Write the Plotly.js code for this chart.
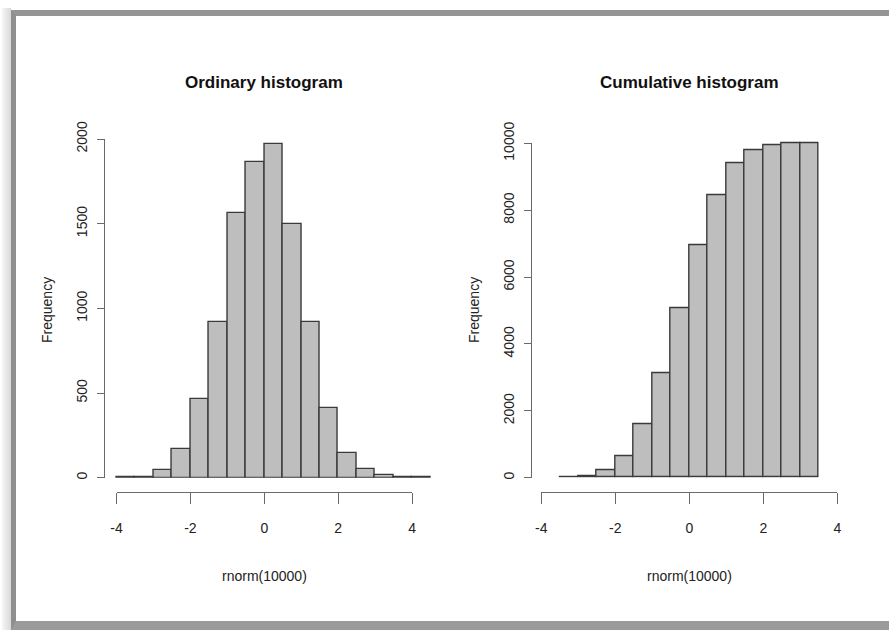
<!DOCTYPE html>
<html>
<head>
<meta charset="utf-8">
<script src="https://cdn.plot.ly/plotly-3.0.1.min.js"></script>
<style>
  html, body { margin: 0; padding: 0; background: #ffffff; }
  #wrap { position: relative; width: 889px; height: 630px; overflow: hidden; }
  #shadow { position: absolute; left: 2px; top: 8px; width: 9px; height: 622px;
            background: linear-gradient(to right, #f6f6f6, #d9d9d9); }
  #frame { position: absolute; left: 11px; top: 10px; width: 900px;
           border-top: 6px solid #959595; border-left: 5px solid #8f8f8f;
           border-bottom: 9px solid #9b9b9b; box-sizing: border-box; height: 620px; }
  #chart { position: absolute; left: 0; top: 0; width: 889px; height: 630px; }
</style>
</head>
<body>
<div id="wrap">
  <div id="shadow"></div>
  <div id="frame"></div>
  <div id="chart"></div>
</div>
<script>
// ---------------- data ----------------
const leftTitle = "Ordinary histogram";
const rightTitle = "Cumulative histogram";
const xLabel = "rnorm(10000)";
const yLabel = "Frequency";

const leftBreaks = [-4, -3.5, -3, -2.5, -2, -1.5, -1, -0.5, 0, 0.5, 1, 1.5, 2, 2.5, 3, 3.5, 4, 4.5];
const leftCounts = [3, 4, 45, 167, 463, 921, 1562, 1862, 1972, 1497, 917, 409, 148, 49, 14, 3, 1];

const rightBreaks = [-3.5, -3, -2.5, -2, -1.5, -1, -0.5, 0, 0.5, 1, 1.5, 2, 2.5, 3, 3.5];
const rightCounts = [5, 45, 230, 655, 1605, 3120, 5065, 6940, 8455, 9390, 9780, 9945, 9990, 10000];

const xTicks = [-4, -2, 0, 2, 4];
const leftYTicks = [0, 500, 1000, 1500, 2000];
const rightYTicks = [0, 2000, 4000, 6000, 8000, 10000];

// ---------------- layout helpers (pixel geometry) ----------------
const W = 889, H = 630;
const px2x = p => p / W;
const px2y = p => (H - p) / H;

function mids(b) { const m = []; for (let i = 0; i < b.length - 1; i++) m.push((b[i] + b[i + 1]) / 2); return m; }
function widths(b) { const w = []; for (let i = 0; i < b.length - 1; i++) w.push(b[i + 1] - b[i]); return w; }

// panel geometry
const panels = [
  { zeroX: 264.3, sx: 36.95, base: 477.7, topVal: leftYTicks[leftYTicks.length - 1], topPx: 139, axisX: 104 },
  { zeroX: 689.3, sx: 37.0,  base: 477.7, topVal: rightYTicks[rightYTicks.length - 1], topPx: 143.3, axisX: 531 }
];
const dataXRange = [-4.4, 4.8];
const xAxisPx = 491.7;

const tickFont = { family: "Liberation Sans, Arial, sans-serif", size: 14, color: "#222" };
const axisColor = "#6a6a6a";

const layout = {
  width: W, height: H,
  margin: { l: 0, r: 0, t: 0, b: 0, pad: 0 },
  paper_bgcolor: "rgba(0,0,0,0)",
  plot_bgcolor: "rgba(0,0,0,0)",
  showlegend: false,
  bargap: 0,
  annotations: [],
  font: { family: "Liberation Sans, Arial, sans-serif" }
};

const traces = [];
const sets = [
  { breaks: leftBreaks, counts: leftCounts, yTicks: leftYTicks, yExtra: 2100, title: leftTitle },
  { breaks: rightBreaks, counts: rightCounts, yTicks: rightYTicks, yExtra: 10300, title: rightTitle }
];

sets.forEach((s, i) => {
  const p = panels[i];
  const sy = (p.base - p.topPx) / p.topVal;
  const dx = "x" + (2 * i + 1), dy = "y" + (2 * i + 1);   // data axes
  const vx = "x" + (2 * i + 2), vy = "y" + (2 * i + 2);   // visible R-style axes
  const kdx = "xaxis" + (2 * i + 1), kdy = "yaxis" + (2 * i + 1);
  const kvx = "xaxis" + (2 * i + 2), kvy = "yaxis" + (2 * i + 2);

  // data axes (hidden)
  layout[kdx] = {
    domain: [px2x(p.zeroX + p.sx * dataXRange[0]), px2x(p.zeroX + p.sx * dataXRange[1])],
    range: dataXRange, visible: false, anchor: dy, fixedrange: true
  };
  layout[kdy] = {
    domain: [px2y(p.base), px2y(p.base - sy * s.yExtra)],
    range: [0, s.yExtra], visible: false, anchor: dx, fixedrange: true
  };

  // visible axes spanning first..last tick
  const x0 = xTicks[0], x1 = xTicks[xTicks.length - 1];
  const y0 = s.yTicks[0], y1 = s.yTicks[s.yTicks.length - 1];
  layout[kvx] = {
    domain: [px2x(p.zeroX + p.sx * x0), px2x(p.zeroX + p.sx * x1)],
    range: [x0, x1], anchor: "free", position: px2y(xAxisPx),
    showline: true, linecolor: axisColor, linewidth: 1.3,
    ticks: "outside", ticklen: 11, tickwidth: 1.3, tickcolor: axisColor,
    tickvals: xTicks, ticktext: xTicks.map(v => (v < 0 ? "-" + Math.abs(v) : String(v))),
    tickfont: tickFont, showgrid: false, zeroline: false, fixedrange: true,
    ticklabelstandoff: 12
  };
  layout[kvy] = {
    domain: [px2y(p.base - sy * y0), px2y(p.base - sy * y1)],
    range: [y0, y1], anchor: "free", position: px2x(p.axisX),
    showline: true, linecolor: axisColor, linewidth: 1.3,
    ticks: "outside", ticklen: 7, tickwidth: 1.3, tickcolor: axisColor,
    tickvals: s.yTicks, ticktext: s.yTicks.map(String), tickangle: -90,
    tickfont: tickFont, showgrid: false, zeroline: false, fixedrange: true,
    ticklabelstandoff: 4
  };

  traces.push({
    type: "bar", x: mids(s.breaks), y: s.counts, width: widths(s.breaks),
    xaxis: dx, yaxis: dy,
    marker: { color: "#bebebe", line: { color: "#3a3a3a", width: 1.4 } },
    hoverinfo: "x+y"
  });
  traces.push({
    type: "scatter", mode: "markers", x: [x0, x1], y: [y0, y1],
    xaxis: vx, yaxis: vy, marker: { opacity: 0 }, hoverinfo: "skip"
  });

  // titles & axis labels
  layout.annotations.push({
    text: s.title, xref: "paper", yref: "paper", showarrow: false,
    x: px2x(p.zeroX), y: px2y(83), xanchor: "center", yanchor: "middle",
    font: { family: "Liberation Sans, Arial, sans-serif", size: 17, color: "#111", weight: "bold" }
  });
  layout.annotations.push({
    text: xLabel, xref: "paper", yref: "paper", showarrow: false,
    x: px2x(p.zeroX), y: px2y(576), xanchor: "center", yanchor: "middle",
    font: { family: "Liberation Sans, Arial, sans-serif", size: 14, color: "#222" }
  });
  layout.annotations.push({
    text: yLabel, xref: "paper", yref: "paper", showarrow: false, textangle: -90,
    x: px2x(p.axisX - 57), y: px2y(310), xanchor: "center", yanchor: "middle",
    font: { family: "Liberation Sans, Arial, sans-serif", size: 14, color: "#222" }
  });
});

Plotly.newPlot("chart", traces, layout, { displayModeBar: false, staticPlot: false });
</script>
</body>
</html>
